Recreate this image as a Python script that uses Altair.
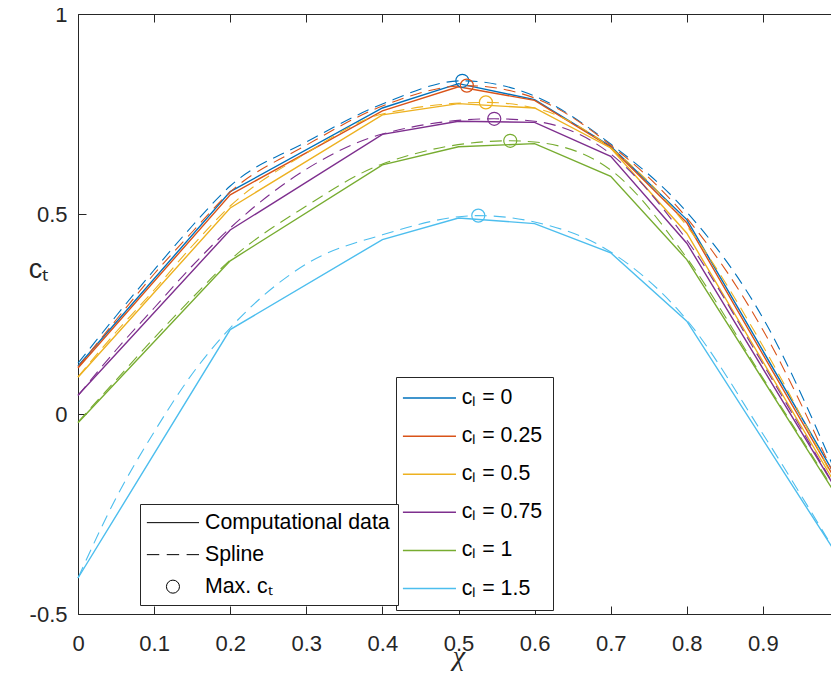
import altair as alt
import pandas as pd

# ---------------- data ----------------
cl_labels = ["cₗ = 0", "cₗ = 0.25", "cₗ = 0.5", "cₗ = 0.75", "cₗ = 1", "cₗ = 1.5"]
colors = ["#0072BD", "#D95319", "#EDB120", "#7E2F8E", "#77AC30", "#4DBEEE"]

# Computational data
x_data = [0.0, 0.2, 0.4, 0.5, 0.6, 0.7, 0.8, 1.0]
ct_data_cl0 = [0.120, 0.556, 0.765, 0.826, 0.786, 0.669, 0.486, -0.170]
ct_data_cl025 = [0.115, 0.548, 0.758, 0.818, 0.784, 0.667, 0.478, -0.180]
ct_data_cl05 = [0.092, 0.515, 0.748, 0.776, 0.765, 0.665, 0.452, -0.190]
ct_data_cl075 = [0.047, 0.460, 0.699, 0.732, 0.729, 0.644, 0.427, -0.200]
ct_data_cl1 = [-0.022, 0.383, 0.623, 0.668, 0.676, 0.594, 0.386, -0.214]
ct_data_cl15 = [-0.410, 0.211, 0.436, 0.490, 0.476, 0.403, 0.232, -0.360]

# Spline (read at these chi values)
x_spline = [0.0, 0.05, 0.1, 0.15, 0.2, 0.3, 0.4, 0.6, 0.7, 0.8, 0.9, 1.0]
ct_spline_cl0 = [0.127, 0.245, 0.360, 0.470, 0.570, 0.680, 0.775, 0.795, 0.675, 0.505, 0.240, -0.165]
ct_spline_cl025 = [0.117, 0.235, 0.350, 0.455, 0.555, 0.672, 0.770, 0.790, 0.672, 0.490, 0.210, -0.180]
ct_spline_cl05 = [0.093, 0.205, 0.310, 0.420, 0.520, 0.652, 0.750, 0.765, 0.665, 0.470, 0.170, -0.190]
ct_spline_cl075 = [0.046, 0.160, 0.265, 0.370, 0.465, 0.612, 0.700, 0.732, 0.650, 0.435, 0.125, -0.200]
ct_spline_cl1 = [-0.020, 0.085, 0.190, 0.290, 0.385, 0.520, 0.625, 0.680, 0.610, 0.390, 0.090, -0.210]
ct_spline_cl15 = [-0.410, -0.210, -0.045, 0.100, 0.215, 0.375, 0.448, 0.480, 0.405, 0.235, -0.050, -0.360]

# Maxima of the splines
max_x = [0.505, 0.511, 0.536, 0.547, 0.568, 0.526]
max_ct = [0.833, 0.821, 0.779, 0.738, 0.683, 0.496]

x_ticks = [0, 0.1, 0.2, 0.3, 0.4, 0.5, 0.6, 0.7, 0.8, 0.9, 1.0]
y_ticks = [-0.5, 0, 0.5, 1]
style_labels = ["Computational data", "Spline", "Max. cₜ"]

# ---------------- tables ----------------
data_series = [ct_data_cl0, ct_data_cl025, ct_data_cl05, ct_data_cl075, ct_data_cl1, ct_data_cl15]
spline_series = [ct_spline_cl0, ct_spline_cl025, ct_spline_cl05, ct_spline_cl075, ct_spline_cl1, ct_spline_cl15]

df_data = pd.DataFrame(
    [{"x": x, "ct": y, "cl": lab} for lab, ys in zip(cl_labels, data_series) for x, y in zip(x_data, ys)]
)
spl_rows = []
for lab, ys, mx, my in zip(cl_labels, spline_series, max_x, max_ct):
    for x, y in zip(x_spline, ys):
        spl_rows.append({"x": x, "ct": y, "cl": lab})
    spl_rows.append({"x": mx, "ct": my, "cl": lab})
df_spline = pd.DataFrame(spl_rows).sort_values(["cl", "x"])
df_max = pd.DataFrame({"x": max_x, "ct": max_ct, "cl": cl_labels, "kind": [style_labels[2]] * len(cl_labels)})

AX = "#262626"
FONT = "Liberation Sans"
LEG_FS = 21.3

xscale = alt.Scale(domain=[0, 1], nice=False, zero=False)
yscale = alt.Scale(domain=[-0.5, 1], nice=False, zero=False)
cscale = alt.Scale(domain=cl_labels, range=colors)

x_bottom = alt.Axis(
    orient="bottom", values=x_ticks, format=".1~f", offset=-8, tickSize=8, domain=False, grid=False,
    tickColor=AX, tickWidth=1, labelPadding=19, labelFont=FONT, labelFontSize=22, labelColor=AX,
    labelFlush=False, labelOverlap=False,
    title="χ", titleFont="Liberation Serif", titleFontStyle="italic", titleFontWeight="normal",
    titleFontSize=28, titleColor=AX, titleY=58, titleBaseline="alphabetic",
)
y_left = alt.Axis(
    orient="left", values=y_ticks, format=".1~f", labelExpr="replace(datum.label, '−', '-')",
    offset=-8, tickSize=8, domain=False, grid=False, tickColor=AX, tickWidth=1,
    labelPadding=11, labelFont=FONT, labelFontSize=22, labelColor=AX, labelFlush=False,
    title="cₜ", titleAngle=0, titleX=-48, titleY=255, titleAlign="center", titleBaseline="middle",
    titleFont=FONT, titleFontSize=27, titleFontWeight="normal", titleColor=AX,
)
x_top = alt.Axis(orient="top", values=x_ticks, labels=False, offset=-8, tickSize=8, domain=False,
                 grid=False, tickColor=AX, tickWidth=1, title=None)
y_right = alt.Axis(orient="right", values=y_ticks, labels=False, offset=-8, tickSize=8, domain=False,
                   grid=False, tickColor=AX, tickWidth=1, title=None)

color_legend = alt.Legend(
    title=None, orient="none", legendX=318, legendY=363, symbolType="M-4,0H4", symbolSize=176,
    symbolStrokeWidth=1.5, symbolOffset=12.4, labelOffset=21.6, padding=10.4, rowPadding=16.1,
    labelFont=FONT, labelFontSize=LEG_FS, labelColor="black", labelLimit=300,
    strokeColor=AX, fillColor="white",
)
style_legend = alt.Legend(
    title=None, orient="none", legendX=62, legendY=490, symbolSize=170, symbolOffset=14.3,
    labelOffset=21.4, padding=8, rowPadding=10, symbolStrokeColor="black", symbolFillColor="transparent",
    symbolStrokeWidth=1, labelFont=FONT, labelFontSize=LEG_FS, labelColor="black", labelLimit=300,
    strokeColor=AX, fillColor="white",
)
style_shapes = [
    "M-4,0H4",
    "M-4,0H-2.1M-0.95,0H0.95M2.1,0H4",
    "circle",
]

solid = alt.Chart(df_data).mark_line(strokeWidth=1.4).encode(
    x=alt.X("x:Q", scale=xscale, axis=x_bottom),
    y=alt.Y("ct:Q", scale=yscale, axis=y_left),
    color=alt.Color("cl:N", scale=cscale, legend=color_legend, sort=cl_labels),
)
dashed = alt.Chart(df_spline).mark_line(strokeWidth=1.1, strokeDash=[12, 7], interpolate="monotone").encode(
    x=alt.X("x:Q", scale=xscale, axis=x_top),
    y=alt.Y("ct:Q", scale=yscale, axis=y_right),
    color=alt.Color("cl:N", scale=cscale, legend=None, sort=cl_labels),
)
points = alt.Chart(df_max).mark_point(filled=False, size=170, strokeWidth=1.2, opacity=1).encode(
    x=alt.X("x:Q", scale=xscale, axis=None),
    y=alt.Y("ct:Q", scale=yscale, axis=None),
    color=alt.Color("cl:N", scale=cscale, legend=None, sort=cl_labels),
    shape=alt.Shape("kind:N", scale=alt.Scale(domain=style_labels, range=style_shapes), legend=style_legend),
)

chart = (
    alt.layer(solid, dashed, points)
    .resolve_axis(x="independent", y="independent")
    .properties(
        width=761, height=600,
        padding={"left": 70, "top": 6, "right": -8, "bottom": 70},
        autosize=alt.AutoSizeParams(type="none"),
        background="white",
    )
    .configure_view(stroke=AX, strokeWidth=1)
)

chart.save("out.html", embed_options={"renderer": "svg", "actions": False})
